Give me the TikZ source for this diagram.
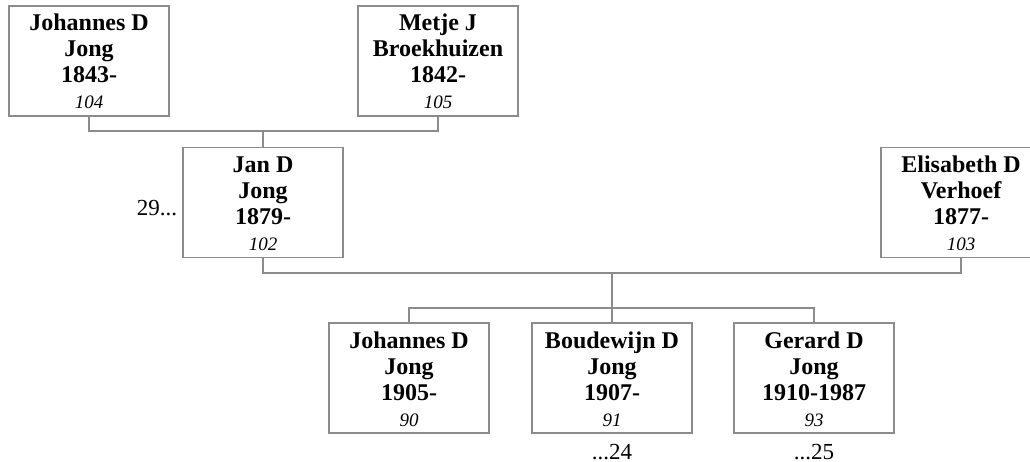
\documentclass[tikz,border=0pt]{standalone}
\usepackage{fontspec}
\setmainfont{Liberation Serif}
\definecolor{boxgray}{RGB}{140,140,140}
\def\nr#1{{\normalfont\itshape\fontsize{19}{26}\selectfont #1}}
\def\who#1#2#3#4{\rule{0pt}{25pt}#1\\#2\\#3\\\nr{#4}\rule[-7pt]{0pt}{7pt}}

\begin{document}
\begin{tikzpicture} [x=1pt, y=-1pt,
  person/.style={draw=boxgray, line width=1.2pt, minimum width=160pt,
    minimum height=110pt, inner sep=0pt, align=center,
    font=\fontsize{24}{26}\selectfont\bfseries},
  link/.style={draw=boxgray, line width=1.2pt},
  more/.style={font=\fontsize{23}{26}\selectfont, inner sep=0pt}]
\useasboundingbox (0,0) rectangle (1030,462);

% grandparents
\node [person] (johannes) at (89,61) {\who{Johannes D}{Jong}{1843-}{104}};
\node [person] (metje) at (438,61) {\who{Metje J}{Broekhuizen}{1842-}{105}};

% parents
\node [person] (jan) at (263,202.5) {\who{Jan D}{Jong}{1879-}{102}};
\node [person] (elisabeth) at (961,202.5) {\who{Elisabeth D}{Verhoef}{1877-}{103}};

\node [more, left=5pt] (janmore) at ([yshift=-6pt]jan.west) {29...};

% children
\node [person] (johannes2) at (409,378) {\who{Johannes D}{Jong}{1905-}{90}};
\node [person] (boudewijn) at (612,378) {\who{Boudewijn D}{Jong}{1907-}{91}};
\node [person] (gerard) at (814,378) {\who{Gerard D}{Jong}{1910-1987}{93}};

\node [more, below=10pt] (boudewijnmore) at (boudewijn.south) {...24};
\node [more, below=10pt] (gerardmore) at (gerard.south) {...25};

\coordinate (couple1) at (263,131);
\coordinate (couple2) at (612,273);
\coordinate (kids) at (612,308);

\draw [link] (johannes.south) |- (couple1) -| (metje.south);
\draw [link] (couple1) -- (jan.north);

\draw [link] (jan.south) |- (couple2) -| (elisabeth.south);
\draw [link] (couple2) -- (kids);

\draw [link] (johannes2.north) |- (kids) -| (gerard.north);
\draw [link] (kids) -- (boudewijn.north);

\end{tikzpicture}
\end{document}
